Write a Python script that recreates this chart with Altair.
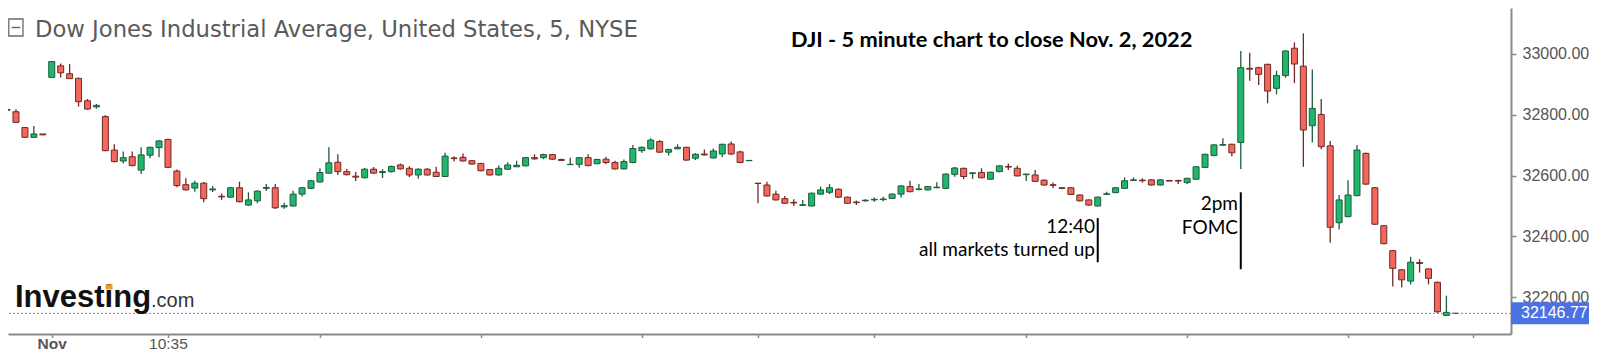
import altair as alt
import pandas as pd

# ---- candle data: Oct 31 (last 5 bars), Nov 1 (79 bars), Nov 2 (79 bars), 5-minute ----
opens = [
    32815, 32810, 32758, 32726, 32737,
    32923, 32961, 32935, 32920, 32846, 32826, 32794, 32684, 32648, 32662,
    32618, 32667, 32692, 32719, 32615, 32570, 32559, 32575, 32553, 32532,
    32529, 32560, 32503, 32517, 32558, 32560, 32497, 32500, 32539, 32558,
    32579, 32608, 32644, 32613, 32598, 32593, 32621, 32610, 32613, 32635,
    32624, 32602, 32621, 32611, 32597, 32658, 32660, 32649, 32640, 32620,
    32602, 32621, 32629, 32632, 32659, 32659, 32669, 32653, 32636, 32637,
    32659, 32639, 32654, 32643, 32622, 32643, 32682, 32688, 32712, 32677,
    32688, 32693, 32657, 32671, 32658, 32671, 32704, 32678, 32649,
    32575, 32569, 32539, 32524, 32512, 32502, 32500, 32539, 32545, 32555,
    32529, 32513, 32517, 32520, 32521, 32525, 32539, 32564, 32554, 32553,
    32560, 32558, 32604, 32624, 32607, 32610, 32588, 32613, 32630, 32624,
    32603, 32602, 32585, 32570, 32560, 32560, 32536, 32520, 32500, 32538,
    32544, 32558, 32584, 32585, 32586, 32569, 32584, 32584, 32577, 32588,
    32627, 32666, 32700, 32703, 32709, 32953, 32955, 32966, 32887, 32929,
    33019, 32960, 32764, 32801, 32698, 32445, 32465, 32534, 32673, 32560,
    32435, 32353, 32290, 32253, 32314, 32293, 32249, 32140, 32147,
]
highs = [
    32825, 32818, 32758, 32763, 32737,
    32977, 32969, 32967, 32922, 32852, 32836, 32799, 32703, 32679, 32679,
    32693, 32695, 32716, 32721, 32620, 32591, 32583, 32579, 32566, 32541,
    32562, 32580, 32545, 32551, 32572, 32572, 32511, 32550, 32562, 32585,
    32624, 32693, 32670, 32622, 32612, 32625, 32628, 32621, 32633, 32640,
    32631, 32624, 32625, 32629, 32675, 32664, 32673, 32651, 32642, 32622,
    32633, 32644, 32649, 32661, 32670, 32672, 32671, 32655, 32659, 32661,
    32670, 32655, 32662, 32649, 32653, 32701, 32696, 32723, 32716, 32688,
    32703, 32695, 32674, 32686, 32689, 32705, 32712, 32682, 32650,
    32576, 32580, 32550, 32533, 32522, 32520, 32544, 32564, 32572, 32558,
    32531, 32518, 32522, 32528, 32530, 32541, 32568, 32583, 32572, 32566,
    32578, 32607, 32628, 32626, 32611, 32624, 32613, 32634, 32640, 32632,
    32606, 32618, 32587, 32577, 32562, 32562, 32538, 32522, 32531, 32547,
    32562, 32594, 32594, 32591, 32588, 32588, 32585, 32586, 32593, 32631,
    32672, 32703, 32723, 32705, 33010, 33004, 32958, 32968, 32945, 33012,
    33038, 33068, 32949, 32852, 32714, 32536, 32585, 32701, 32676, 32562,
    32437, 32355, 32292, 32333, 32325, 32295, 32251, 32205, 32148,
]
lows = [
    32812, 32775, 32724, 32724, 32733,
    32921, 32923, 32918, 32827, 32817, 32820, 32680, 32644, 32640, 32631,
    32605, 32657, 32660, 32625, 32562, 32551, 32547, 32512, 32546, 32520,
    32527, 32512, 32501, 32509, 32549, 32490, 32491, 32498, 32531, 32555,
    32577, 32606, 32602, 32600, 32582, 32590, 32606, 32592, 32610, 32620,
    32595, 32590, 32600, 32595, 32596, 32646, 32646, 32636, 32614, 32600,
    32600, 32619, 32628, 32630, 32652, 32654, 32652, 32648, 32635, 32626,
    32631, 32637, 32637, 32620, 32620, 32641, 32675, 32686, 32675, 32666,
    32687, 32649, 32651, 32666, 32656, 32660, 32668, 32641, 32648,
    32509, 32531, 32518, 32507, 32500, 32500, 32499, 32537, 32539, 32526,
    32507, 32503, 32514, 32514, 32516, 32523, 32528, 32545, 32552, 32551,
    32558, 32556, 32596, 32588, 32589, 32591, 32586, 32611, 32618, 32597,
    32582, 32579, 32567, 32558, 32555, 32536, 32515, 32501, 32498, 32537,
    32542, 32556, 32583, 32577, 32567, 32567, 32581, 32572, 32572, 32586,
    32625, 32664, 32699, 32664, 32622, 32912, 32898, 32838, 32867, 32922,
    32904, 32629, 32709, 32687, 32379, 32423, 32463, 32532, 32570, 32438,
    32374, 32235, 32232, 32242, 32281, 32242, 32147, 32138, 32146,
]
closes = [
    32818, 32775, 32726, 32737, 32734,
    32975, 32938, 32919, 32843, 32819, 32831, 32682, 32646, 32659, 32633,
    32668, 32693, 32714, 32627, 32567, 32553, 32575, 32524, 32556, 32530,
    32560, 32514, 32520, 32549, 32561, 32494, 32501, 32539, 32560, 32583,
    32610, 32642, 32613, 32603, 32595, 32621, 32608, 32613, 32630, 32622,
    32602, 32621, 32602, 32597, 32664, 32656, 32648, 32638, 32616, 32602,
    32624, 32635, 32634, 32659, 32655, 32669, 32654, 32650, 32637, 32659,
    32633, 32653, 32643, 32622, 32646, 32689, 32693, 32717, 32677, 32686,
    32693, 32651, 32670, 32668, 32681, 32703, 32671, 32643, 32650,
    32574, 32533, 32520, 32509, 32510, 32504, 32542, 32553, 32560, 32529,
    32509, 32511, 32519, 32522, 32523, 32539, 32566, 32547, 32556, 32564,
    32562, 32605, 32625, 32597, 32609, 32593, 32611, 32632, 32628, 32599,
    32605, 32581, 32569, 32568, 32558, 32538, 32517, 32503, 32529, 32540,
    32560, 32583, 32586, 32583, 32569, 32586, 32582, 32582, 32591, 32629,
    32670, 32701, 32702, 32675, 32955, 32950, 32933, 32878, 32929, 33010,
    32967, 32750, 32821, 32695, 32430, 32520, 32536, 32684, 32572, 32440,
    32376, 32295, 32257, 32315, 32311, 32262, 32152, 32150, 32146.77,
]

# x axis ticks (bar index) and their labels
tick_index = [5, 18, 35, 53, 71, 84, 97, 114, 132, 150, 164]
tick_labels = ["Nov", "10:35", "", "", "", "", "", "", "", "", ""]
price_ticks = [32200, 32400, 32600, 32800, 33000]
last_price = 32146.77

# annotation markers: bar index (12:40 and 14:00 on Nov 2) and price span of the marker line
marker_index = [122, 138]
marker_top = [32460, 32545]
marker_bottom = [32315, 32292]

df = pd.DataFrame({"i": list(range(len(opens))), "open": opens, "high": highs,
                   "low": lows, "close": closes})
df["dir"] = ["up" if c >= o else "down" for o, c in zip(df["open"], df["close"])]

GREEN_FILL, GREEN_LINE = "#1fb66e", "#1e5c3b"
RED_FILL, RED_LINE = "#f4675c", "#6e2a25"
AXIS = "#8a8a8a"
LABEL = "#555555"

xscale = alt.Scale(domain=[0.6667, 167.6667], nice=False, zero=False)
yscale = alt.Scale(domain=[32078.9, 33151.3], nice=False, zero=False)

label_expr = " : ".join(f"datum.value == {v} ? '{t}'" for v, t in zip(tick_index, tick_labels)) + " : ''"

x_axis = alt.Axis(values=tick_index, labelExpr=label_expr, tickSize=3.5, tickColor=AXIS,
                  tickWidth=1.5, domainColor=AXIS, domainWidth=2, grid=False, title=None,
                  labelFont="Liberation Sans", labelFontSize=15.5, labelColor=LABEL,
                  labelBaseline="alphabetic", labelPadding=11.2, labelAngle=0,
                  labelOverlap=False, labelFlush=False,
                  labelFontWeight={"condition": {"test": "datum.value == 5", "value": "bold"},
                                   "value": "normal"})
y_axis = alt.Axis(orient="right", values=price_ticks, format=".2f", tickSize=5,
                  tickColor=AXIS, tickWidth=1.5, domainColor=AXIS, domainWidth=2,
                  grid=False, title=None, labelFont="Liberation Sans", labelFontSize=16,
                  labelColor=LABEL, labelPadding=6)


def X(field):
    return alt.X(field, scale=xscale, axis=x_axis)


def Y(field):
    return alt.Y(field, scale=yscale, axis=y_axis)


base = alt.Chart(df)

wicks = base.mark_rule(strokeWidth=1.3).encode(
    x=X("i:Q"), y=Y("low:Q"), y2="high:Q",
    color=alt.Color("dir:N", scale=alt.Scale(domain=["up", "down"],
                                             range=[GREEN_LINE, RED_LINE]), legend=None),
)
bodies = base.mark_bar(size=6, strokeWidth=1).encode(
    x=X("i:Q"), y=Y("open:Q"), y2="close:Q",
    fill=alt.Fill("dir:N", scale=alt.Scale(domain=["up", "down"],
                                           range=[GREEN_FILL, RED_FILL]), legend=None),
    stroke=alt.Stroke("dir:N", scale=alt.Scale(domain=["up", "down"],
                                               range=[GREEN_LINE, RED_LINE]), legend=None),
)

last_df = pd.DataFrame({"p": [last_price]})
last_line = alt.Chart(last_df).mark_rule(color="#6f8be0", strokeDash=[2, 2], strokeWidth=1).encode(
    y=Y("p:Q"))
last_box = alt.Chart(last_df).mark_rule(color="#4b72e3", strokeWidth=22, strokeCap="butt").encode(
    y=Y("p:Q"), x=alt.value(1503), x2=alt.value(1589))
last_text = alt.Chart(last_df).mark_text(align="left", baseline="middle", color="white",
                                         font="Liberation Sans", fontSize=16).encode(
    y=Y("p:Q"), x=alt.value(1513), text=alt.Text("p:Q", format=".2f"))

mk_df = pd.DataFrame({"i": marker_index, "top": marker_top, "bottom": marker_bottom})
markers = alt.Chart(mk_df).mark_rule(color="black", strokeWidth=2).encode(
    x=X("i:Q"), y=Y("top:Q"), y2="bottom:Q")


def label(text, x, y, size, align="left", font="Lato", weight="normal", color="black"):
    return alt.Chart(pd.DataFrame({"t": [text]})).mark_text(
        align=align, baseline="alphabetic", font=font, fontSize=size,
        fontWeight=weight, color=color).encode(
        x=alt.value(x), y=alt.value(y), text="t:N")


title = label("Dow Jones Industrial Average, United States, 5, NYSE", 27, 28.5, 22.7,
              font="DejaVu Sans", color="#5a5a5a")
icon_box = alt.Chart(last_df).mark_rect(fillOpacity=0, stroke="#6a6a6a", strokeWidth=1.3).encode(
    x=alt.value(0.8), x2=alt.value(15), y=alt.value(11), y2=alt.value(28))
icon_minus = alt.Chart(last_df).mark_rule(color="#6a6a6a", strokeWidth=1.5).encode(
    x=alt.value(3.5), x2=alt.value(12.3), y=alt.value(19.5))
headline = label("DJI - 5 minute chart to close Nov. 2, 2022", 783, 38.5, 21.8, weight="bold")
note1a = label("12:40", 1087, 224.5, 19, align="right")
note1b = label("all markets turned up", 1087, 247.5, 19, align="right")
note2a = label("2pm", 1230, 202, 19, align="right")
note2b = label("FOMC", 1230, 226, 19, align="right")
logo1 = label("Investing", 7, 299, 31, font="Liberation Sans", weight="bold", color="#111111")
logo2 = label(".com", 143, 299, 20, font="Liberation Sans", color="#333333")
logo_dot = alt.Chart(last_df).mark_rect(color="#f59b23").encode(
    x=alt.value(97.5), x2=alt.value(104.5), y=alt.value(276.3), y2=alt.value(281.5))

chart = alt.layer(
    wicks, bodies, last_line, markers, last_box, last_text,
    title, icon_box, icon_minus, headline, note1a, note1b, note2a, note2b, logo1, logo2,
    logo_dot,
).properties(
    width=1503, height=326,
    autosize=alt.AutoSizeParams(type="none"),
    padding={"left": 0, "top": 0, "right": 78, "bottom": 18},
    background="white",
).configure_view(stroke=None)

chart.save("out.html", embed_options={"renderer": "svg", "actions": False})
